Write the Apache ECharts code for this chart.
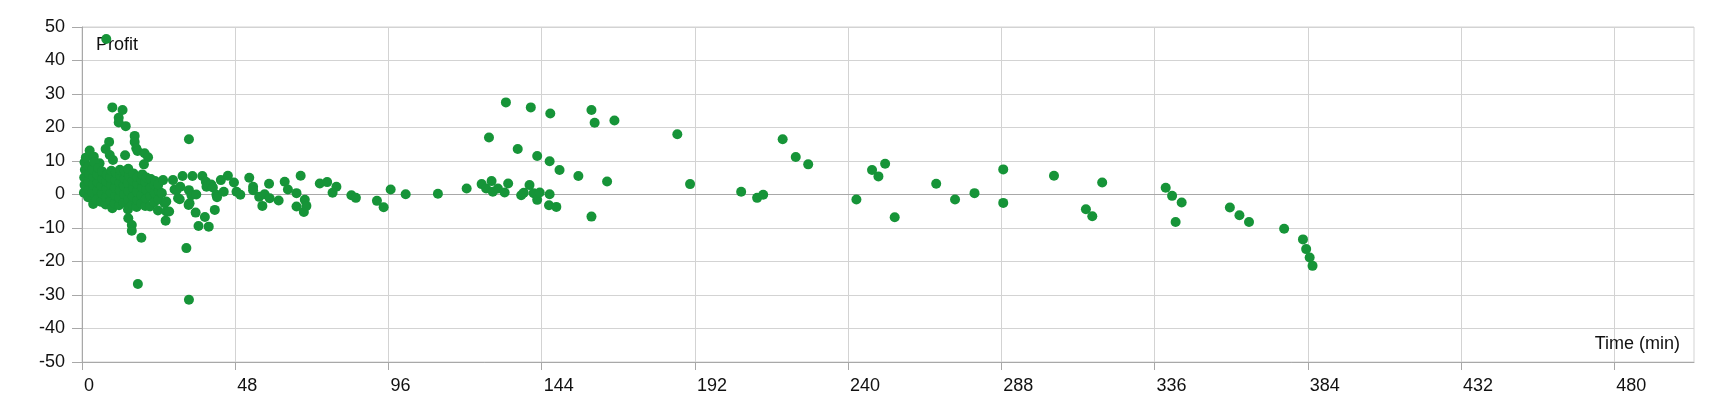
<!DOCTYPE html>
<html>
<head>
<meta charset="utf-8">
<script src="https://cdn.jsdelivr.net/npm/echarts@6/dist/echarts.min.js"></script>
<style>
html,body{margin:0;padding:0;background:#fff;}
#chart{width:1720px;height:400px;}
</style>
</head>
<body>
<div id="chart"></div>
<script>
// [time (min), profit]
const clusterPoints = [
[0.6,0.5],[0.8,2.8],[0.7,5.1],[0.9,7.4],[0.8,9.6],[1.2,11.0],[2.4,13.1],[3.7,11.3],[5.5,9.3],
[1.9,-0.8],[2.2,1.5],[2.0,3.9],[2.3,6.2],[2.1,8.4],[3.5,-2.8],[3.2,0.6],[3.4,2.9],[3.6,5.3],[3.3,7.5],[3.9,9.7],
[4.6,-1.6],[4.8,1.2],[4.9,3.6],[4.7,6.0],[5.1,7.9],
[6.0,-2.2],[6.2,0.3],[6.1,2.6],[6.4,4.7],[6.3,6.9],
[7.4,-3.0],[7.5,-0.8],[7.7,1.7],[7.6,3.9],[7.8,5.9],
[8.9,-1.9],[9.0,0.6],[9.1,2.9],[8.8,5.0],[9.2,7.1],
[9.5,-4.1],[10.2,-2.6],[10.4,-0.3],[10.3,2.0],[10.5,4.3],[10.6,6.5],
[11.6,-3.2],[11.7,-1.0],[11.9,1.3],[11.8,3.5],[12.0,5.7],[11.9,7.4],
[13.0,-2.4],[13.2,0.1],[13.1,2.6],[13.3,4.8],[13.4,6.9],
[14.4,-4.5],[14.5,-1.5],[14.6,1.0],[14.4,3.4],[14.7,5.6],[14.5,7.7],
[15.8,-3.0],[15.9,-0.6],[16.0,1.9],[15.9,4.2],[16.1,6.3],
[17.1,-3.7],[17.3,-1.7],[17.2,0.8],[17.4,3.1],[17.3,5.2],
[18.5,-2.6],[18.6,-0.2],[18.8,2.2],[18.7,4.4],[18.9,6.0],
[19.8,-3.4],[20.0,-1.1],[20.1,1.4],[19.9,3.7],[20.2,5.1],
[21.3,-3.6],[21.4,-0.5],[21.5,2.0],[21.6,4.6],
[22.6,-2.3],[22.8,0.4],[22.7,2.9],[22.9,4.0],
[23.8,-4.8],[24.0,-1.5],[24.1,1.0],[23.9,3.0]
];
const earlyOutliers = [
[7.6,46.4],[9.5,26.0],[12.7,25.2],[11.5,22.9],[11.5,21.5],[13.7,20.4],[16.5,17.5],[16.5,15.7],
[17.0,13.8],[17.4,13.0],[19.6,12.3],[20.7,11.1],[19.4,9.0],[8.5,15.7],[7.4,13.6],[8.7,11.8],
[9.7,10.3],[13.5,11.7],[14.5,-7.1],[15.6,-9.1],[15.6,-10.8],[18.6,-12.9],[17.5,-26.7]
];
const earlyPoints = [
[25.0,0.4],[25.4,4.3],[25.9,-2.6],[26.2,-7.8],[26.4,-5.1],[26.4,-2.1],[27.3,-5.1],[28.5,4.3],
[29.0,1.5],[29.6,1.3],[30.1,-1.1],[30.6,-1.4],[30.8,2.3],[31.5,5.5],[32.7,-16.0],[33.5,-31.4],
[33.5,16.5],[33.5,1.3],[33.4,-3.1],[33.7,-2.6],[34.6,5.5],[34.3,-0.2],[35.6,-5.4],[35.8,0.0],
[36.5,-9.4],[37.7,5.5],[38.5,-6.7],[38.8,3.8],[39.0,2.3],[39.7,-9.6],[40.5,3.0],[41.0,2.1],
[41.6,-4.6],[42.1,-0.1],[42.3,-0.8],[43.5,4.3],[44.4,0.8],[45.7,5.6],[47.6,3.6],[48.4,0.8],[49.6,-0.1],
[52.4,5.0],[53.6,2.3],[53.6,1.3],[55.5,-0.7],[56.5,-3.4],[57.2,0.1],[58.6,3.2],[58.8,-1.1],
[61.6,-1.8],[63.5,3.8],[64.5,1.5],[67.2,0.4],[67.2,-3.6],[68.5,5.6],[69.5,-5.2],[69.8,-1.6],
[70.3,-3.4],[74.5,3.3],[76.8,3.7],[78.5,0.5],[79.7,2.3],[84.4,-0.2],[85.8,-1.0],[92.4,-1.9],
[94.5,-3.8],[96.7,1.5],[101.4,0.1],[111.5,0.2]
];
const midPoints = [
[120.5,1.8],[125.2,3.1],[126.6,1.8],[127.5,17.0],[128.3,4.0],[128.7,0.8],[130.3,1.8],[132.4,0.6],
[132.8,27.5],[133.5,3.3],[136.5,13.6],[137.6,-0.2],[138.4,0.5],[140.2,2.8],[140.6,26.0],[141.5,0.4],
[142.6,11.5],[142.6,-1.6],[143.4,0.6],[146.5,0.1],[146.5,9.9],[146.3,-3.2],[146.7,24.2],[148.6,-3.7],
[149.6,7.3],[155.5,5.5],[159.6,25.2],[159.6,-6.6],[160.6,21.4],[164.5,3.9],[166.8,22.1]
];
const latePoints = [
[186.5,18.0],[190.5,3.1],[206.5,0.8],[211.5,-1.0],[213.4,-0.1],[219.5,16.5],[223.6,11.2],[227.5,9.0],
[242.6,-1.5],[247.5,7.3],[249.5,5.4],[251.6,9.2],[254.6,-6.8],[267.6,3.2],[273.5,-1.5],[279.6,0.4],
[288.6,7.5],[288.6,-2.5],[304.5,5.6],[314.5,-4.4],[316.5,-6.5],[319.6,3.6],[339.5,2.0],[341.5,-0.4],
[342.6,-8.2],[344.5,-2.4],[359.6,-3.9],[362.6,-6.2],[365.6,-8.2],[376.6,-10.2],[382.5,-13.4],
[383.5,-16.3],[384.6,-18.8],[385.5,-21.3]
];
const xTicks = [0,48,96,144,192,240,288,336,384,432,480];
const yTicks = [-50,-40,-30,-20,-10,0,10,20,30,40,50];

const allPoints = clusterPoints.concat(earlyOutliers, earlyPoints, midPoints, latePoints);

const FONT = '"Liberation Sans", Arial, sans-serif';
const chart = echarts.init(document.getElementById('chart'), null, {renderer: 'canvas'});
chart.setOption({
  animation: false,
  backgroundColor: '#ffffff',
  grid: {left: 82, top: 27, right: 26, bottom: 38, show: true, borderColor: '#d3d3d3', borderWidth: 1, backgroundColor: 'transparent'},
  xAxis: {
    type: 'value', min: 0, max: 505, interval: 48,
    name: 'Time (min)', nameLocation: 'end', nameGap: -14,
    nameTextStyle: {fontFamily: FONT, fontSize: 18, color: '#111', align: 'right', verticalAlign: 'bottom', padding: [0, 0, 9, 0]},
    axisLine: {show: true, onZero: false, lineStyle: {color: '#a8a8a8', width: 1}},
    axisTick: {show: true, length: 8, lineStyle: {color: '#a8a8a8'}, customValues: xTicks},
    axisLabel: {fontFamily: FONT, fontSize: 18, color: '#111', align: 'left', margin: 15, padding: [0, 0, 0, 2], customValues: xTicks},
    splitLine: {show: true, lineStyle: {color: '#d3d3d3', width: 1}}
  },
  yAxis: {
    type: 'value', min: -50, max: 50, interval: 10,
    name: 'Profit', nameLocation: 'end', nameGap: -18,
    nameTextStyle: {fontFamily: FONT, fontSize: 18, color: '#111', align: 'left', verticalAlign: 'middle', padding: [0, 0, 0, 14]},
    axisLine: {show: true, onZero: false, lineStyle: {color: '#a8a8a8', width: 1}},
    axisTick: {show: true, length: 10, lineStyle: {color: '#a8a8a8'}},
    axisLabel: {fontFamily: FONT, fontSize: 18, color: '#111', margin: 17, customValues: yTicks},
    splitLine: {show: true, lineStyle: {color: '#d3d3d3', width: 1}}
  },
  series: [{
    type: 'scatter',
    data: allPoints,
    symbol: 'circle',
    symbolSize: 10,
    itemStyle: {color: '#169438', opacity: 1},
    markLine: {
      silent: true, symbol: 'none', label: {show: false},
      lineStyle: {color: '#a8a8a8', type: 'solid', width: 1},
      data: [{yAxis: 0}],
      z: 1
    },
    z: 3
  }]
});
</script>
</body>
</html>
